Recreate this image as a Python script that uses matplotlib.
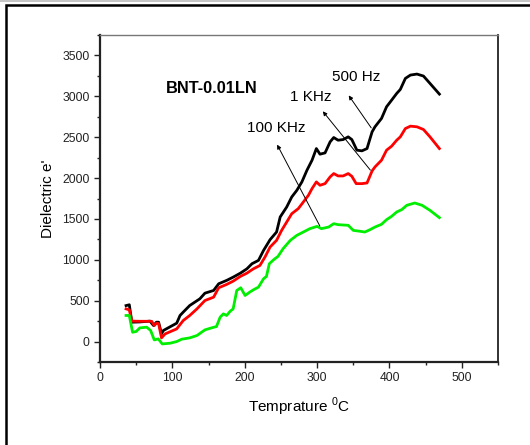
import numpy as np
import matplotlib
matplotlib.use('Agg')
import matplotlib.pyplot as plt
from matplotlib.patches import Rectangle
from matplotlib.ticker import MultipleLocator

plt.rcParams['font.family'] = ['Liberation Sans', 'DejaVu Sans']
plt.rcParams['mathtext.fontset'] = 'custom'
plt.rcParams['mathtext.rm'] = 'Liberation Sans'

# ── Data ─────────────────────────────────────────────────────────────────────
t_500 = [36, 40.5, 44, 55, 69, 74, 78, 81, 85, 87.5, 106, 110.6, 115, 124, 138,
         145, 157, 164, 175, 184, 194, 203, 210, 219, 226, 235, 244, 249, 258,
         265, 272, 279, 286, 293, 299, 304, 311, 318, 323, 329, 336, 343, 348,
         355, 362, 369, 376, 380, 389, 396, 403, 410, 415, 422, 429, 438, 447,
         456, 469]
e_500 = [440, 450, 237, 240, 250, 196, 237, 237, 94, 135, 225, 319, 360, 441, 523,
         592, 625, 707, 748, 788, 837, 890, 952, 993, 1115, 1246, 1340, 1524, 1646,
         1769, 1850, 1953, 2096, 2218, 2361, 2292, 2308, 2443, 2496, 2463, 2471,
         2504, 2471, 2341, 2333, 2361, 2565, 2627, 2729, 2872, 2953, 3035, 3084,
         3219, 3260, 3272, 3248, 3158, 3027]

t_1k = [36, 40.5, 44, 55, 71.4, 75, 78, 81, 85, 90, 106, 115, 124, 134, 145, 157,
        164, 175, 184, 194, 203, 212, 221, 228, 235, 244, 251, 258, 265, 274, 281,
        288, 293, 299, 304, 311, 318, 323, 329, 336, 343, 348, 354, 362, 369, 376,
        380, 389, 396, 403, 410, 415, 422, 429, 438, 447, 456, 469]
e_1k = [400, 388, 250, 248, 248, 196, 225, 220, 45, 94, 155, 257, 319, 400, 502, 543,
        658, 699, 739, 797, 837, 890, 931, 1034, 1156, 1238, 1360, 1462, 1564, 1626,
        1707, 1789, 1871, 1953, 1912, 1932, 2014, 2055, 2026, 2026, 2055, 2022, 1932,
        1932, 1940, 2087, 2136, 2218, 2341, 2390, 2463, 2504, 2606, 2635, 2627, 2594,
        2504, 2361]

t_100k = [36, 40.5, 45, 50, 55, 64.5, 70, 75, 80.6, 86, 97, 106, 113, 124, 134, 145,
          154, 161, 166, 170.5, 175, 180, 184, 189, 194.5, 200.5, 207, 212, 219, 226,
          230, 234, 240, 246, 253, 263, 272, 281, 290, 300, 306, 316, 323, 329, 343,
          350, 357, 366, 373, 380, 389, 396, 403, 410, 417, 424, 435, 445, 456, 469]
e_100k = [319, 319, 114, 123, 167, 176, 135, 20, 33, -29, -20, 0, 29, 45, 74, 143,
          167, 184, 298, 339, 319, 372, 400, 625, 658, 564, 605, 633, 666, 768, 797,
          952, 1001, 1042, 1136, 1238, 1299, 1340, 1381, 1409, 1381, 1401, 1442, 1430,
          1422, 1360, 1352, 1340, 1368, 1401, 1434, 1491, 1532, 1585, 1614, 1667,
          1695, 1667, 1605, 1516]

# ── Plot ─────────────────────────────────────────────────────────────────────
fig = plt.figure(figsize=(5.30, 4.45), dpi=100)
ax = fig.add_axes([100 / 530, 1 - 362 / 445, 398 / 530, 327 / 445])

ax.plot(t_500, e_500, color='black', lw=2)
ax.plot(t_1k, e_1k, color='#ff0000', lw=2)
ax.plot(t_100k, e_100k, color='#00ee00', lw=2)

ax.set_xlim(0, 550)
ax.set_ylim(-250, 3750)
ax.set_xticks([0, 100, 200, 300, 400, 500])
ax.set_yticks([0, 500, 1000, 1500, 2000, 2500, 3000, 3500])
ax.xaxis.set_minor_locator(MultipleLocator(50))
ax.yaxis.set_minor_locator(MultipleLocator(250))
ax.tick_params(which='major', direction='out', length=4, width=1, labelsize=8.7,
               top=False, right=False, colors='#222222')
ax.tick_params(which='minor', direction='out', length=2.5, width=1,
               top=False, right=False, colors='#222222')
for s in ['left', 'bottom']:
    ax.spines[s].set_linewidth(1.6)
    ax.spines[s].set_color('#222222')
ax.spines['right'].set_linewidth(1.3)
ax.spines['right'].set_color('#222222')
ax.spines['top'].set_linewidth(1.0)
ax.spines['top'].set_color('#777777')

ax.set_xlabel('Temprature $^{0}$C', fontsize=11, labelpad=8)
ax.set_ylabel("Dielectric e'", fontsize=11, labelpad=5)

ax.text(91, 3100, 'BNT-0.01LN', fontsize=11.8, fontweight='bold', va='center')
ax.text(321, 3235, '500 Hz', fontsize=11, va='center')
ax.text(263, 2990, '1 KHz', fontsize=11, va='center')
ax.text(203, 2610, '100 KHz', fontsize=11, va='center')

arrow = dict(arrowstyle='-|>', color='black', lw=0.7, mutation_scale=6)
ax.annotate('', xy=(341.5, 3039), xytext=(377, 2586), arrowprops=arrow)
ax.annotate('', xy=(305.5, 2843), xytext=(376, 2071), arrowprops=arrow)
ax.annotate('', xy=(243, 2439), xytext=(305.5, 1385), arrowprops=arrow)

# outer frame of the source page
fig.patches.append(Rectangle((6 / 530, -0.1), 1.2, 1 - 5 / 445 + 0.1,
                             transform=fig.transFigure, fill=False,
                             edgecolor='black', lw=1.8))
fig.add_artist(plt.Line2D([0, 1], [1 - 0.8 / 445] * 2, transform=fig.transFigure,
                          color='#bbbbbb', lw=1.2))

fig.savefig('out.png', dpi=100)
